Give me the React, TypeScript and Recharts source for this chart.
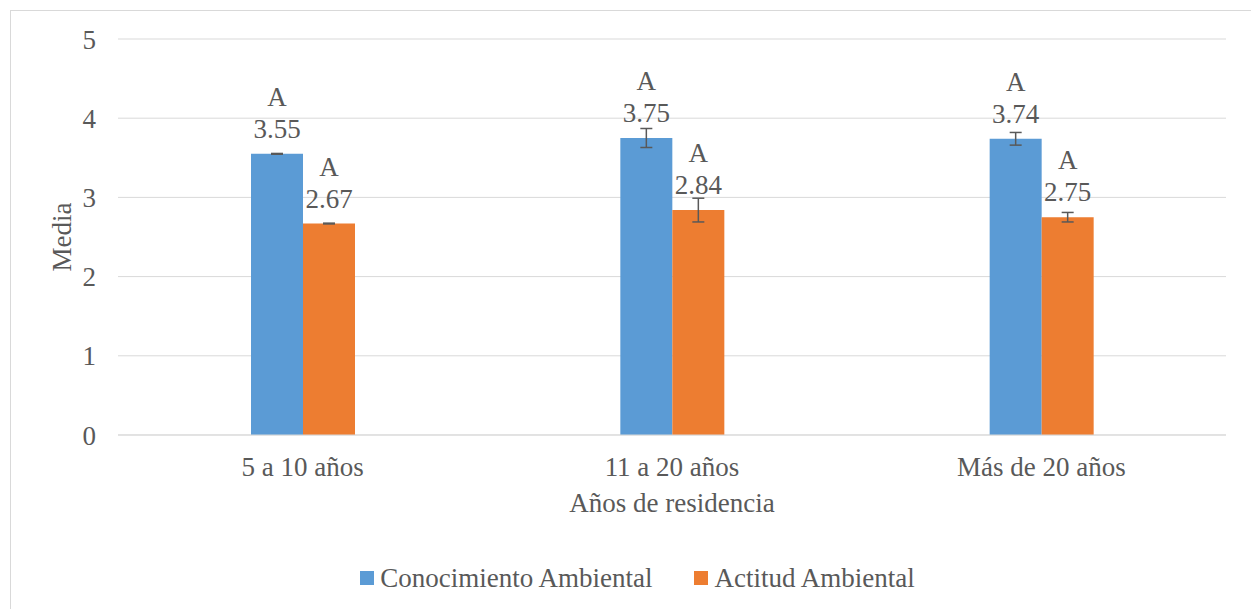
import { Bar, BarChart, CartesianGrid, ErrorBar, LabelList, XAxis, YAxis } from 'recharts';

const categories = ['5 a 10 años', '11 a 20 años', 'Más de 20 años'];
const conocimiento = [3.55, 3.75, 3.74];
const conocimientoErr = [0.005, 0.12, 0.08];
const actitud = [2.67, 2.84, 2.75];
const actitudErr = [0.005, 0.15, 0.06];
const letters = ['A', 'A', 'A'];
const yTicks = [0, 1, 2, 3, 4, 5];

const blue = '#5B9BD5';
const orange = '#ED7D31';
const textColor = '#595959';
const font = 'Liberation Serif, Times New Roman, serif';
const fontSize = 27;

const data = categories.map((name, i) => ({
  name,
  conocimiento: conocimiento[i],
  conocimientoErr: conocimientoErr[i],
  actitud: actitud[i],
  actitudErr: actitudErr[i],
}));

const BarLabel = (props: any) => {
  const { x, y, width, value, index } = props;
  const cx = x + width / 2;
  return (
    <g fontFamily={font} fontSize={fontSize} fill={textColor} textAnchor="middle">
      <text x={cx} y={y - 48}>{letters[index]}</text>
      <text x={cx} y={y - 16}>{Number(value).toFixed(2)}</text>
    </g>
  );
};

const LegendItem = ({ color, label }: { color: string; label: string }) => (
  <span style={{ display: 'inline-flex', alignItems: 'center', margin: '0 21px' }}>
    <span style={{ width: 14, height: 14, background: color, marginRight: 6 }} />
    <span>{label}</span>
  </span>
);

export default function App() {
  return (
    <div style={{ position: 'absolute', left: 0, top: 0, width: 1251, height: 609, background: '#fff', fontFamily: font }}>
      <div
        style={{
          position: 'absolute',
          left: 10,
          top: 10,
          width: 1260,
          height: 620,
          border: '1px solid #d9d9d9',
        }}
      />
      <BarChart
        width={1251}
        height={609}
        data={data}
        margin={{ top: 39, right: 25, bottom: 114, left: 58 }}
        barSize={52}
        barGap={0}
        style={{ position: 'absolute', left: 0, top: 0 }}
      >
        <CartesianGrid vertical={false} stroke="#d9d9d9" />
        <XAxis
          dataKey="name"
          height={60}
          axisLine={{ stroke: '#d9d9d9' }}
          tickLine={false}
          tickSize={0}
          tickMargin={22}
          tick={{ fontFamily: font, fontSize, fill: textColor }}
          label={{
            content: (p: any) => (
              <text
                x={p.viewBox.x + p.viewBox.width / 2}
                y={p.viewBox.y + 77}
                textAnchor="middle"
                fontFamily={font}
                fontSize={fontSize}
                fill={textColor}
              >
                Años de residencia
              </text>
            ),
          }}
        />
        <YAxis
          width={60}
          domain={[0, 5]}
          ticks={yTicks}
          axisLine={false}
          tickLine={false}
          tickSize={0}
          tickMargin={22}
          tick={{ fontFamily: font, fontSize, fill: textColor }}
          label={{
            content: (p: any) => {
              const cy = p.viewBox.y + p.viewBox.height / 2;
              return (
                <text
                  x={71}
                  y={cy}
                  transform={`rotate(-90, 71, ${cy})`}
                  textAnchor="middle"
                  fontFamily={font}
                  fontSize={fontSize}
                  fill={textColor}
                >
                  Media
                </text>
              );
            },
          }}
        />
        <Bar dataKey="conocimiento" name="Conocimiento Ambiental" fill={blue} isAnimationActive={false}>
          <ErrorBar dataKey="conocimientoErr" width={6} stroke={textColor} strokeWidth={1.5} />
          <LabelList dataKey="conocimiento" content={BarLabel} />
        </Bar>
        <Bar dataKey="actitud" name="Actitud Ambiental" fill={orange} isAnimationActive={false}>
          <ErrorBar dataKey="actitudErr" width={6} stroke={textColor} strokeWidth={1.5} />
          <LabelList dataKey="actitud" content={BarLabel} />
        </Bar>
      </BarChart>
      <div
        style={{
          position: 'absolute',
          left: 12,
          top: 559,
          width: 1251,
          textAlign: 'center',
          fontSize,
          color: textColor,
          lineHeight: '34px',
        }}
      >
        <LegendItem color={blue} label="Conocimiento Ambiental" />
        <LegendItem color={orange} label="Actitud Ambiental" />
      </div>
    </div>
  );
}
